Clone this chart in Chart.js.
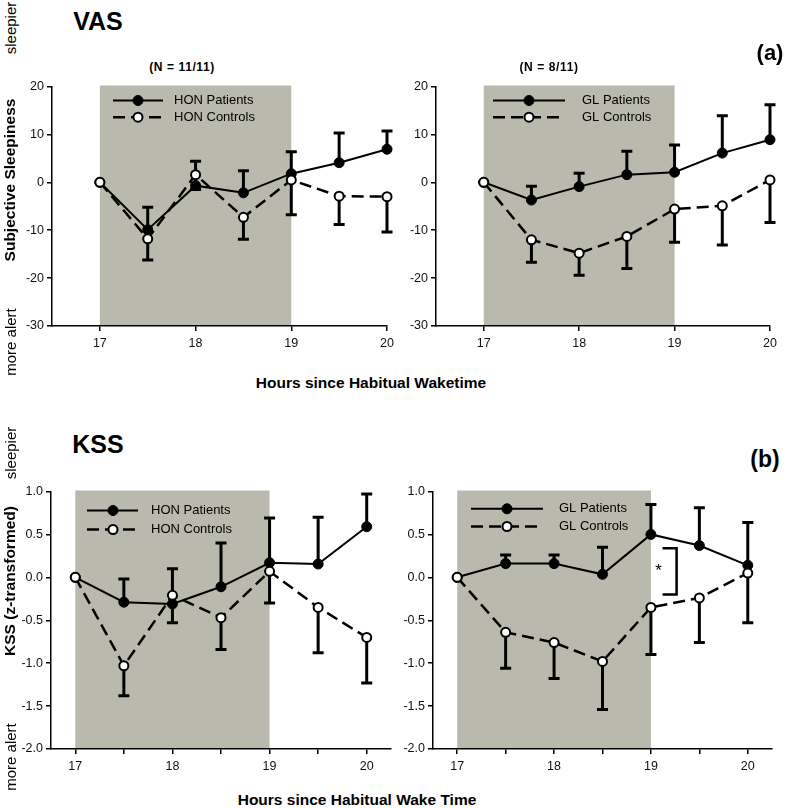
<!DOCTYPE html>
<html>
<head>
<meta charset="utf-8">
<script src="https://cdn.jsdelivr.net/npm/chart.js@4.4.0/dist/chart.umd.min.js"></script>
<style>
  body { margin: 0; background: #fff; }
  #fig { position: relative; width: 787px; height: 808px; overflow: hidden;
         font-family: Arial, "Liberation Sans", sans-serif; color: #000; }
  .box { position: absolute; }
  .lbl { position: absolute; white-space: nowrap; line-height: 1; }
  .rot { transform: translate(-50%, -50%) rotate(-90deg); }
  .ctr { transform: translate(-50%, -50%); }
  .b { font-weight: bold; }
</style>
</head>
<body>
<div id="fig">
  <div class="box" style="left:7px;top:76px;width:392px;height:280px"><canvas id="vasHon"></canvas></div>
  <div class="box" style="left:391px;top:76px;width:391px;height:280px"><canvas id="vasGl"></canvas></div>
  <div class="box" style="left:6px;top:481px;width:397px;height:298px"><canvas id="kssHon"></canvas></div>
  <div class="box" style="left:388px;top:481px;width:396px;height:298px"><canvas id="kssGl"></canvas></div>

  <div class="lbl rot" style="left:10px;top:28px;font-size:15px">sleepier</div>
  <div class="lbl rot" style="left:10px;top:342px;font-size:15px">more alert</div>
  <div class="lbl rot b" style="left:10px;top:180px;font-size:15.5px">Subjective Sleepiness</div>
  <div class="lbl ctr b" style="left:98px;top:21px;font-size:25px">VAS</div>
  <div class="lbl ctr b" style="left:182px;top:67px;font-size:12px;letter-spacing:0.6px">(N = 11/11)</div>
  <div class="lbl ctr b" style="left:549px;top:67px;font-size:12px;letter-spacing:0.6px">(N = 8/11)</div>
  <div class="lbl ctr b" style="left:770px;top:53px;font-size:22px">(a)</div>
  <div class="lbl ctr b" style="left:371px;top:383px;font-size:15.5px">Hours since Habitual Waketime</div>

  <div class="lbl rot" style="left:10px;top:453px;font-size:15px">sleepier</div>
  <div class="lbl rot" style="left:10px;top:757px;font-size:15px">more alert</div>
  <div class="lbl rot b" style="left:10px;top:581px;font-size:15.5px">KSS (z-transformed)</div>
  <div class="lbl ctr b" style="left:98px;top:444px;font-size:25px">KSS</div>
  <div class="lbl ctr b" style="left:765px;top:459px;font-size:23px">(b)</div>
  <div class="lbl ctr b" style="left:357px;top:800px;font-size:15.5px">Hours since Habitual Wake Time</div>
</div>
<script>
  // hours since habitual waketime
  var hours = [17, 17.5, 18, 18.5, 19, 19.5, 20];

  // VAS, HON group
  var vasHonPatients = [0, -9.9, -0.7, -2.2, 1.8, 4.1, 6.9];
  var vasHonPatientsSem = [0, 4.7, 5.1, 4.6, 4.6, 6.2, 3.8];
  var vasHonControls = [0, -11.8, 1.6, -7.3, 0.5, -2.9, -3.0];
  var vasHonControlsSem = [0, 4.4, 3.1, 4.6, 7.3, 5.9, 7.4];

  // VAS, GL group
  var vasGlPatients = [0, -3.7, -0.9, 1.6, 2.1, 6.1, 8.9];
  var vasGlPatientsSem = [0, 2.9, 2.8, 4.9, 5.7, 7.8, 7.3];
  var vasGlControls = [0, -12.0, -14.8, -11.3, -5.6, -4.9, 0.5];
  var vasGlControlsSem = [0, 4.7, 4.6, 6.7, 6.9, 8.2, 8.9];

  // KSS (z-transformed), HON group
  var kssHonPatients = [0, -0.29, -0.31, -0.11, 0.17, 0.155, 0.59];
  var kssHonPatientsSem = [0, 0.27, 0.41, 0.51, 0.52, 0.545, 0.38];
  var kssHonControls = [0, -1.03, -0.21, -0.47, 0.07, -0.35, -0.70];
  var kssHonControlsSem = [0, 0.35, 0.32, 0.37, 0.37, 0.53, 0.53];

  // KSS (z-transformed), GL group
  var kssGlPatients = [0, 0.16, 0.16, 0.035, 0.50, 0.37, 0.14];
  var kssGlPatientsSem = [0, 0.10, 0.10, 0.315, 0.35, 0.44, 0.50];
  var kssGlControls = [0, -0.64, -0.76, -0.98, -0.35, -0.24, 0.05];
  var kssGlControlsSem = [0, 0.42, 0.42, 0.56, 0.55, 0.52, 0.58];

  // axis ticks
  var vasYTicks = [20, 10, 0, -10, -20, -30];
  var kssYTicks = [1.0, 0.5, 0.0, -0.5, -1.0, -1.5, -2.0];
  var vasXTicks = [17, 18, 19, 20];
  var kssXTicks = [17, 17.5, 18, 18.5, 19, 19.5, 20];

  // shaded period (hours)
  var shadeFrom = 17;
  var shadeTo = 19;

  var tickFont = { family: "Arial, 'Liberation Sans', sans-serif", size: 12.5 };
  var dash = [12, 6];

  var panelPlugin = {
    id: "panel",
    beforeDraw: function (chart) {
      var ctx = chart.ctx, a = chart.chartArea;
      var x = chart.scales.x;
      ctx.save();
      ctx.fillStyle = "#b9b9ad";
      var x1 = x.getPixelForValue(shadeFrom), x2 = x.getPixelForValue(shadeTo);
      ctx.fillRect(x1, a.top - 1, x2 - x1, a.bottom - a.top);
      ctx.restore();
    },
    beforeDatasetsDraw: function (chart) {
      // error bars: patients up, controls down
      var ctx = chart.ctx, x = chart.scales.x, y = chart.scales.y;
      ctx.save();
      ctx.strokeStyle = "#000";
      ctx.lineWidth = 3;
      chart.data.datasets.forEach(function (ds) {
        ds.data.forEach(function (pt, i) {
          var e = ds.sem[i];
          if (!e) return;
          var px = x.getPixelForValue(pt.x);
          var py = y.getPixelForValue(pt.y);
          var pe = y.getPixelForValue(pt.y + ds.dir * e);
          ctx.beginPath();
          ctx.moveTo(px, py);
          ctx.lineTo(px, pe);
          ctx.moveTo(px - 5.5, pe);
          ctx.lineTo(px + 5.5, pe);
          ctx.stroke();
        });
      });
      ctx.restore();
    },
    afterDatasetsDraw: function (chart) {
      var ctx = chart.ctx, a = chart.chartArea;
      var lg = chart.options.plugins.panel.legend;
      ctx.save();
      [1, 0].forEach(function (k, row) {
        var ds = chart.data.datasets[k];
        var yy = a.top + lg.rows[row];
        ctx.strokeStyle = "#000";
        ctx.lineWidth = ds.borderWidth;
        ctx.setLineDash(ds.borderDash || []);
        ctx.beginPath();
        ctx.moveTo(a.left + lg.x0, yy);
        ctx.lineTo(a.left + lg.x1, yy);
        ctx.stroke();
        ctx.setLineDash([]);
        ctx.beginPath();
        ctx.arc(a.left + lg.xm, yy, ds.pointRadius, 0, Math.PI * 2);
        ctx.fillStyle = ds.pointBackgroundColor;
        ctx.fill();
        ctx.lineWidth = ds.pointBorderWidth;
        ctx.stroke();
        ctx.fillStyle = "#000";
        ctx.font = "13px Arial, 'Liberation Sans', sans-serif";
        ctx.textBaseline = "middle";
        ctx.fillText(ds.label, a.left + lg.tx, yy);
      });
      var br = chart.options.plugins.panel.bracket;
      if (br) {
        var x = chart.scales.x, y = chart.scales.y;
        var bx1 = x.getPixelForValue(br.x1), bx2 = x.getPixelForValue(br.x2);
        var by1 = y.getPixelForValue(br.yTop), by2 = y.getPixelForValue(br.yBot);
        ctx.lineWidth = 2.5;
        ctx.beginPath();
        ctx.moveTo(bx1, by1);
        ctx.lineTo(bx2, by1);
        ctx.lineTo(bx2, by2);
        ctx.lineTo(bx1, by2);
        ctx.stroke();
        ctx.font = "17px Arial, 'Liberation Sans', sans-serif";
        ctx.textAlign = "center";
        ctx.textBaseline = "middle";
        ctx.fillText("*", x.getPixelForValue(br.starX), y.getPixelForValue(br.starY) + 3);
      }
      ctx.restore();
    },
  };

  function makePanel(id, p) {
    var axisGrid = {
      display: true, drawOnChartArea: false, drawTicks: true,
      tickLength: 5, color: "#000", lineWidth: 1.5,
    };
    var axisBorder = { display: true, color: "#000", width: 1.5 };
    new Chart(document.getElementById(id), {
      type: "line",
      data: {
        datasets: [
          {
            label: p.names[1],
            data: hours.map(function (h, i) { return { x: h, y: p.controls[i] }; }),
            sem: p.controlsSem, dir: -1,
            borderColor: "#000", borderWidth: 2.5, borderDash: dash,
            pointRadius: 4.5, pointBorderWidth: 2,
            pointBackgroundColor: "#fff", pointBorderColor: "#000",
            tension: 0, order: 0, clip: false,
          },
          {
            label: p.names[0],
            data: hours.map(function (h, i) { return { x: h, y: p.patients[i] }; }),
            sem: p.patientsSem, dir: 1,
            borderColor: "#000", borderWidth: 2,
            pointRadius: 5, pointBorderWidth: 1,
            pointBackgroundColor: "#000", pointBorderColor: "#000",
            tension: 0, order: 1, clip: false,
          },
        ],
      },
      options: {
        responsive: true,
        maintainAspectRatio: false,
        animation: false,
        events: [],
        layout: { padding: { top: 10, right: 12, left: 0, bottom: 0 } },
        plugins: {
          legend: { display: false },
          tooltip: { enabled: false },
          panel: { legend: p.legend, bracket: p.bracket },
        },
        scales: {
          x: {
            type: "linear",
            min: p.xMin,
            max: p.xMax,
            afterBuildTicks: function (s) {
              s.ticks = p.xTicks.map(function (v) { return { value: v }; });
            },
            afterFit: function (s) { s.height = 30; },
            ticks: {
              autoSkip: false, maxRotation: 0, padding: 5,
              color: "#111", font: tickFont,
              callback: function (v) { return Number.isInteger(v) ? String(v) : ""; },
            },
            grid: axisGrid,
            border: axisBorder,
          },
          y: {
            min: p.yTicks[p.yTicks.length - 1],
            max: p.yTicks[0],
            afterBuildTicks: function (s) {
              s.ticks = p.yTicks.map(function (v) { return { value: v }; });
            },
            afterFit: function (s) { s.width = 45; },
            ticks: {
              padding: 3, color: "#111", font: tickFont,
              callback: function (v) { return p.decimals ? v.toFixed(1) : String(v); },
            },
            grid: axisGrid,
            border: axisBorder,
          },
        },
      },
      plugins: [panelPlugin],
    });
  }

  makePanel("vasHon", {
    names: ["HON Patients", "HON Controls"],
    patients: vasHonPatients, patientsSem: vasHonPatientsSem,
    controls: vasHonControls, controlsSem: vasHonControlsSem,
    xMin: 16.5, xMax: 20, xTicks: vasXTicks, yTicks: vasYTicks, decimals: false,
    legend: { x0: 61, x1: 111, xm: 86, rows: [14, 30.7], tx: 122 },
  });
  makePanel("vasGl", {
    names: ["GL Patients", "GL Controls"],
    patients: vasGlPatients, patientsSem: vasGlPatientsSem,
    controls: vasGlControls, controlsSem: vasGlControlsSem,
    xMin: 16.5, xMax: 20, xTicks: vasXTicks, yTicks: vasYTicks, decimals: false,
    legend: { x0: 57, x1: 129, xm: 93, rows: [14, 30.7], tx: 146 },
  });
  makePanel("kssHon", {
    names: ["HON Patients", "HON Controls"],
    patients: kssHonPatients, patientsSem: kssHonPatientsSem,
    controls: kssHonControls, controlsSem: kssHonControlsSem,
    xMin: 16.75, xMax: 20.25, xTicks: kssXTicks, yTicks: kssYTicks, decimals: true,
    legend: { x0: 36, x1: 87, xm: 62, rows: [19, 38], tx: 100 },
  });
  makePanel("kssGl", {
    names: ["GL Patients", "GL Controls"],
    patients: kssGlPatients, patientsSem: kssGlPatientsSem,
    controls: kssGlControls, controlsSem: kssGlControlsSem,
    xMin: 16.75, xMax: 20.25, xTicks: kssXTicks, yTicks: kssYTicks, decimals: true,
    legend: { x0: 38, x1: 110, xm: 74, rows: [17.3, 35], tx: 126 },
    bracket: { x1: 19.12, x2: 19.265, yTop: 0.34, yBot: -0.2, starX: 19.08, starY: 0.105 },
  });
</script>
</body>
</html>
